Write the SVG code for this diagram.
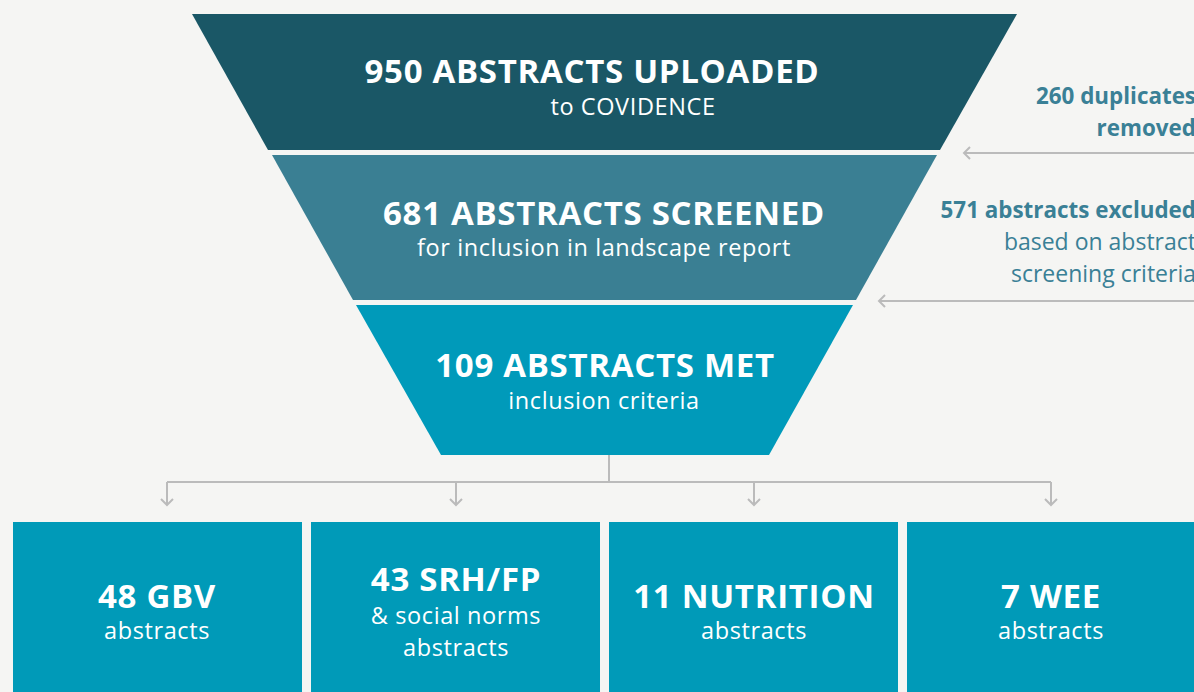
<svg xmlns="http://www.w3.org/2000/svg" width="1194" height="692" viewBox="0 0 1194 692">
<defs>
<style>
.t{font-family:"Open Sans","Liberation Sans",sans-serif;fill:#fff;text-anchor:middle}
.b{font-weight:bold;font-size:33px;letter-spacing:0.7px}
.s{font-size:23.5px;letter-spacing:0.6px}
.side{font-family:"Open Sans","Liberation Sans",sans-serif;fill:#3A8096;text-anchor:end;font-size:23px}
.sb{font-weight:bold;font-size:22.4px}
.con{stroke:#BBBBBB;stroke-width:2;fill:none}
.box{fill:#009AB8}
</style>
<marker id="ah" viewBox="0 0 14 14" refX="7" refY="7" markerWidth="14" markerHeight="14" markerUnits="userSpaceOnUse" orient="auto">
<path d="M1,1 L7,7 L1,13" fill="none" stroke="#BBBBBB" stroke-width="2"/>
</marker>
</defs>
<rect width="1194" height="692" fill="#F5F5F3"/>
<g id="connectors">
<line class="con" x1="1194" y1="153" x2="964" y2="153" marker-end="url(#ah)"/>
<line class="con" x1="1194" y1="301" x2="879" y2="301" marker-end="url(#ah)"/>
<polyline class="con" points="609,455 609,482"/>
<polyline class="con" points="167,482 1051,482"/>
<line class="con" x1="167" y1="482" x2="167" y2="505" marker-end="url(#ah)"/>
<line class="con" x1="456" y1="482" x2="456" y2="505" marker-end="url(#ah)"/>
<line class="con" x1="754" y1="482" x2="754" y2="505" marker-end="url(#ah)"/>
<line class="con" x1="1051" y1="482" x2="1051" y2="505" marker-end="url(#ah)"/>
</g>
<g id="uploaded">
<polygon points="192,14 1017,14 940,150 268,150" fill="#1A5766"/>
<text class="t b" x="592" y="83">950 ABSTRACTS UPLOADED</text>
<text class="t s" x="633" y="115">to COVIDENCE</text>
</g>
<g id="screened">
<polygon points="272,155 937,155 856,300 353,300" fill="#3A7F93"/>
<text class="t b" x="604" y="225">681 ABSTRACTS SCREENED</text>
<text class="t s" x="604" y="256">for inclusion in landscape report</text>
</g>
<g id="met">
<polygon points="356,305 853,305 769,455 441,455" fill="#009ABA"/>
<text class="t b" x="605" y="377">109 ABSTRACTS MET</text>
<text class="t s" x="604" y="409">inclusion criteria</text>
</g>
<g id="duplicates">
<text class="side sb" x="1196" y="104">260 duplicates</text>
<text class="side sb" x="1196" y="136">removed</text>
</g>
<g id="excluded">
<text class="side sb" x="1196" y="218">571 abstracts excluded</text>
<text class="side" x="1196" y="250">based on abstract</text>
<text class="side" x="1196" y="282">screening criteria</text>
</g>
<g id="gbv">
<rect class="box" x="13" y="522" width="289" height="180"/>
<text class="t b" x="157" y="608">48 GBV</text>
<text class="t s" x="157" y="639">abstracts</text>
</g>
<g id="srh">
<rect class="box" x="311" y="522" width="289" height="180"/>
<text class="t b" x="456" y="591">43 SRH/FP</text>
<text class="t s" x="456" y="624">&amp; social norms</text>
<text class="t s" x="456" y="656">abstracts</text>
</g>
<g id="nutrition">
<rect class="box" x="609" y="522" width="289" height="180"/>
<text class="t b" x="754" y="608">11 NUTRITION</text>
<text class="t s" x="754" y="639">abstracts</text>
</g>
<g id="wee">
<rect class="box" x="907" y="522" width="300" height="180"/>
<text class="t b" x="1051" y="608">7 WEE</text>
<text class="t s" x="1051" y="639">abstracts</text>
</g>
</svg>
